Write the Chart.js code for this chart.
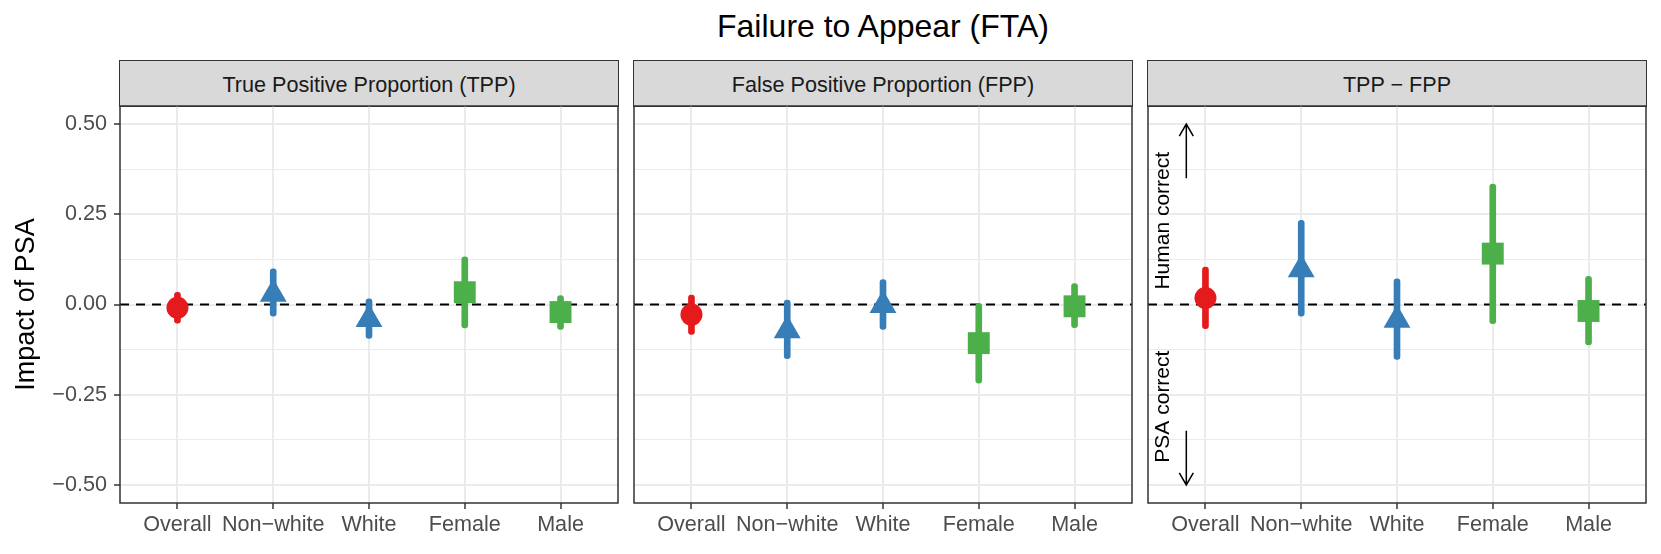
<!DOCTYPE html>
<html>
<head>
<meta charset="utf-8">
<script src="https://cdn.jsdelivr.net/npm/chart.js@4.4.1/dist/chart.umd.min.js"></script>
<style>
  body { margin: 0; background: #fff; font-family: "Liberation Sans", Arial, sans-serif; }
  #wrap { position: relative; width: 1661px; height: 554px; overflow: hidden; }
  .title { position: absolute; left: 483px; width: 800px; top: 10px; text-align: center;
           font-size: 32px; line-height: 32px; color: #000; }
  .strip { position: absolute; top: 60.25px; height: 46.5px; width: 499.5px; box-sizing: border-box;
           background: #D9D9D9; border: 1.5px solid #333; color: #1A1A1A; font-size: 21.6px;
           display: flex; align-items: center; justify-content: center; padding-top: 3px; }
  .panel { position: absolute; top: 102px; height: 451px; }
</style>
</head>
<body>
<div id="wrap">
  <div class="title">Failure to Appear (FTA)</div>
  <div class="strip" style="left:119.25px">True Positive Proportion (TPP)</div>
  <div class="strip" style="left:633.25px">False Positive Proportion (FPP)</div>
  <div class="strip" style="left:1147.25px">TPP &minus; FPP</div>
  <div class="panel" style="left:0;width:622px"><canvas id="tpp"></canvas></div>
  <div class="panel" style="left:630px;width:506px"><canvas id="fpp"></canvas></div>
  <div class="panel" style="left:1144px;width:506px"><canvas id="diff"></canvas></div>
</div>
<script>
// Data
const categories = ['Overall', 'Non\u2212white', 'White', 'Female', 'Male'];
const yTitle = 'Impact of PSA';
const majorTicks = [-0.5, -0.25, 0, 0.25, 0.5];
const minorTicks = [-0.375, -0.125, 0.125, 0.375];

const tppEst = [-0.009, 0.029, -0.041, 0.034, -0.021];
const tppLo  = [-0.052, -0.032, -0.094, -0.065, -0.069];
const tppHi  = [0.034, 0.099, 0.016, 0.132, 0.025];

const fppEst = [-0.028, -0.072, -0.002, -0.107, -0.005];
const fppLo  = [-0.083, -0.150, -0.069, -0.218, -0.064];
const fppHi  = [0.026, 0.012, 0.069, 0.003, 0.058];

const diffEst = [0.018, 0.097, -0.043, 0.141, -0.018];
const diffLo  = [-0.067, -0.032, -0.152, -0.053, -0.112];
const diffHi  = [0.104, 0.233, 0.071, 0.334, 0.078];

// arrow notes on the TPP - FPP panel
const noteLabels = ['Human correct', 'PSA correct'];
const noteTextY = [0.232, -0.283];
const noteArrowFrom = [0.35, -0.35];
const noteArrowTo = [0.5, -0.5];
const noteTextX = -0.44;
const noteArrowX = -0.2;

// Styles
const groupColor = ['#E41A1C', '#377EB8', '#377EB8', '#4DAF4A', '#4DAF4A'];
const groupShape = ['circle', 'triangle', 'triangle', 'rect', 'rect'];
const shapeRadius = { circle: 11, triangle: 15.5, rect: 15.5 };

Chart.defaults.font.family = '"Liberation Sans", Arial, sans-serif';

const fmt = v => v.toFixed(2).replace('-', '\u2212');
const isMajor = v => majorTicks.includes(v);

const panelFrame = {
  id: 'panelFrame',
  beforeDatasetsDraw(chart) {
    const { ctx, chartArea: a, scales: { y } } = chart;
    const y0 = y.getPixelForValue(0);
    ctx.save();
    ctx.strokeStyle = '#000';
    ctx.lineWidth = 2;
    ctx.setLineDash([9, 7]);
    ctx.beginPath();
    ctx.moveTo(a.left, y0);
    ctx.lineTo(a.right, y0);
    ctx.stroke();
    ctx.restore();
  },
  afterDraw(chart) {
    const { ctx, chartArea: a } = chart;
    ctx.save();
    ctx.strokeStyle = '#333333';
    ctx.lineWidth = 1.5;
    ctx.strokeRect(a.left, a.top, a.right - a.left, a.bottom - a.top);
    ctx.restore();
  }
};

const arrowNotes = {
  id: 'arrowNotes',
  afterDatasetsDraw(chart, args, opts) {
    if (!opts.show) return;
    const { ctx, scales: { x, y } } = chart;
    ctx.save();
    ctx.fillStyle = '#000';
    ctx.strokeStyle = '#000';
    ctx.lineWidth = 1.5;
    ctx.font = '21px "Liberation Sans", Arial, sans-serif';
    ctx.textAlign = 'center';
    ctx.textBaseline = 'middle';
    noteLabels.forEach((label, i) => {
      ctx.save();
      ctx.translate(x.getPixelForValue(noteTextX), y.getPixelForValue(noteTextY[i]));
      ctx.rotate(-Math.PI / 2);
      ctx.fillText(label, 0, 0);
      ctx.restore();

      const ax = x.getPixelForValue(noteArrowX);
      const y1 = y.getPixelForValue(noteArrowFrom[i]);
      const y2 = y.getPixelForValue(noteArrowTo[i]);
      const dir = y2 < y1 ? 1 : -1;
      ctx.beginPath();
      ctx.moveTo(ax, y1);
      ctx.lineTo(ax, y2);
      ctx.moveTo(ax - 7, y2 + dir * 12);
      ctx.lineTo(ax, y2);
      ctx.lineTo(ax + 7, y2 + dir * 12);
      ctx.stroke();
    });
    ctx.restore();
  }
};

// no edge padding for overflowing labels, so each panel's plot area is fixed
const noPad = s => { s.paddingTop = 0; s.paddingBottom = 0; s.paddingLeft = 0; s.paddingRight = 0; };

function makePanel(id, est, lo, hi, first, notes) {
  return new Chart(document.getElementById(id), {
    type: 'bar',
    data: {
      datasets: [
        {
          type: 'line',
          data: est.map((v, i) => ({ x: i, y: v })),
          showLine: false,
          pointStyle: groupShape,
          pointRadius: groupShape.map(s => shapeRadius[s]),
          pointBackgroundColor: groupColor,
          pointBorderWidth: 0,
          order: 0
        },
        {
          type: 'bar',
          data: lo.map((v, i) => ({ x: i, y: [v, hi[i]] })),
          backgroundColor: groupColor,
          barThickness: 6,
          borderRadius: 3,
          borderSkipped: false,
          order: 1
        }
      ]
    },
    options: {
      responsive: true,
      maintainAspectRatio: false,
      animation: false,
      events: [],
      layout: { autoPadding: false, padding: { top: 4, right: 4, bottom: 0, left: first ? 0 : 4 } },
      plugins: {
        legend: { display: false },
        tooltip: { enabled: false },
        arrowNotes: { show: !!notes }
      },
      scales: {
        x: {
          type: 'linear',
          min: -0.6,
          max: 4.6,
          offset: false,
          afterBuildTicks: s => { s.ticks = categories.map((c, i) => ({ value: i })); },
          afterFit: s => { s.height = 50; noPad(s); },
          ticks: {
            autoSkip: false,
            maxRotation: 0,
            padding: 3,
            color: '#4D4D4D',
            font: { size: 21.6 },
            callback: v => categories[v]
          },
          grid: { offset: false, color: '#EBEBEB', lineWidth: 2, tickColor: '#333333', tickWidth: 1.5, tickLength: 6 },
          border: { display: false }
        },
        y: {
          min: -0.55,
          max: 0.55,
          afterBuildTicks: s => {
            s.ticks = [...minorTicks, ...majorTicks].sort((a, b) => a - b).map(v => ({ value: v }));
          },
          afterFit: s => { s.width = first ? 120 : 0; noPad(s); },
          title: {
            display: first,
            text: yTitle,
            color: '#000',
            font: { size: 27 },
            padding: { top: 10, bottom: 0 }
          },
          ticks: {
            display: first,
            color: '#4D4D4D',
            font: { size: 21.6 },
            padding: 7,
            callback: v => isMajor(v) ? fmt(v) : ''
          },
          grid: {
            color: '#EBEBEB',
            lineWidth: c => isMajor(c.tick.value) ? 2 : 1,
            drawTicks: first,
            tickLength: 6,
            tickWidth: 1.5,
            tickColor: c => isMajor(c.tick.value) ? '#333333' : 'rgba(0,0,0,0)'
          },
          border: { display: false }
        }
      }
    },
    plugins: [panelFrame, arrowNotes]
  });
}

makePanel('tpp', tppEst, tppLo, tppHi, true, false);
makePanel('fpp', fppEst, fppLo, fppHi, false, false);
makePanel('diff', diffEst, diffLo, diffHi, false, true);
</script>
</body>
</html>
